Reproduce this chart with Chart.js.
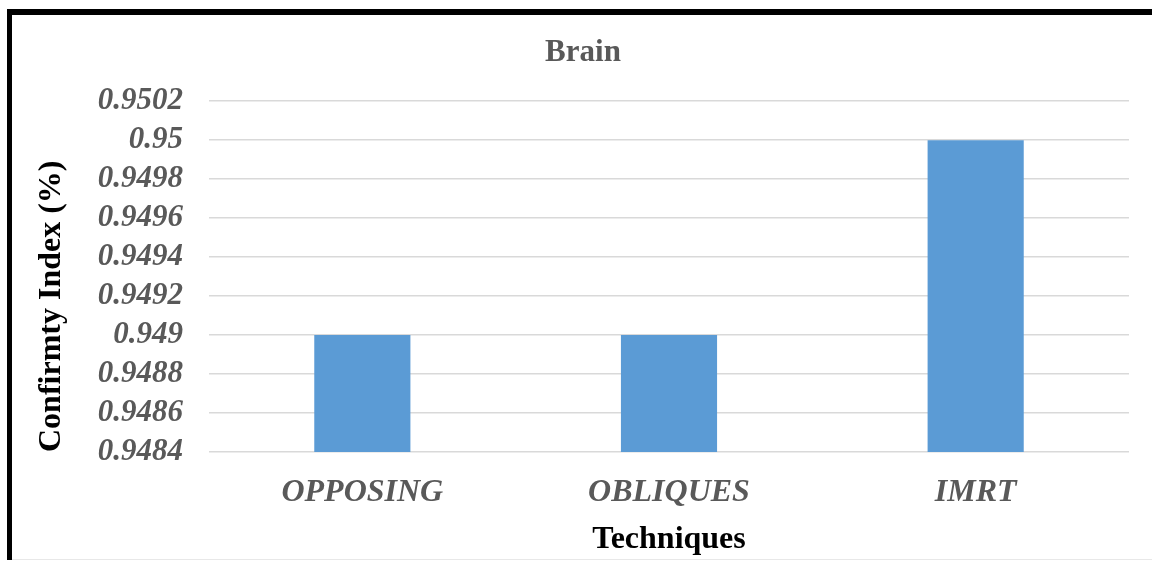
<!DOCTYPE html>
<html>
<head>
<meta charset="utf-8">
<script src="https://cdn.jsdelivr.net/npm/chart.js@4.4.1/dist/chart.umd.min.js"></script>
<style>
  html, body { margin: 0; padding: 0; background: #ffffff; }
  #wrap { position: relative; width: 1152px; height: 561px; overflow: hidden; }
  #frame { position: absolute; left: 7px; top: 9px; right: 0; bottom: 1px;
           border-left: 5px solid #000; border-top: 6px solid #000; }
  #bottomline { position: absolute; left: 12px; right: 0; top: 559px; height: 1px; background: #e8e8e8; }
  #c { position: absolute; left: 0; top: 0; }
</style>
</head>
<body>
<div id="wrap">
  <div id="frame"></div>
  <div id="bottomline"></div>
  <canvas id="c" width="1152" height="561"></canvas>
</div>
<script>
const categories = ['OPPOSING', 'OBLIQUES', 'IMRT'];
const conformityValues = [0.949, 0.949, 0.95];
const yTickValues = [0.9484, 0.9486, 0.9488, 0.949, 0.9492, 0.9494, 0.9496, 0.9498, 0.95, 0.9502];
const yTickLabels = ['0.9484', '0.9486', '0.9488', '0.949', '0.9492', '0.9494', '0.9496', '0.9498', '0.95', '0.9502'];
const chartTitle = 'Brain';
const xAxisTitle = 'Techniques';
const yAxisTitle = 'Confirmty Index (%)';

const serif = '"Liberation Serif", "Times New Roman", serif';

new Chart(document.getElementById('c'), {
  type: 'bar',
  data: {
    labels: categories,
    datasets: [{
      label: 'Conformity Index',
      data: conformityValues,
      backgroundColor: '#5b9bd5',
      borderWidth: 0,
      barPercentage: 1,
      categoryPercentage: 0.3135
    }]
  },
  options: {
    responsive: false,
    animation: false,
    devicePixelRatio: 1,
    layout: { padding: { left: 37, right: 23, top: 0, bottom: 0 } },
    plugins: {
      legend: { display: false },
      tooltip: { enabled: false },
      title: {
        display: true,
        text: chartTitle,
        color: '#595959',
        font: { family: serif, size: 31, weight: 'bold', lineHeight: 1.2 },
        padding: { top: 34, bottom: 30 }
      }
    },
    scales: {
      x: {
        grid: { display: false },
        border: { display: false },
        ticks: {
          color: '#595959',
          font: { family: serif, size: 32, weight: 'bold', style: 'italic', lineHeight: 1.2 },
          padding: 14,
          maxRotation: 0,
          autoSkip: false
        },
        title: {
          display: true,
          text: xAxisTitle,
          color: '#000000',
          font: { family: serif, size: 32, weight: 'bold', lineHeight: 1.2 },
          padding: { top: 0, bottom: 2 }
        },
        afterFit: (scale) => { scale.height = 109; }
      },
      y: {
        min: yTickValues[0],
        max: yTickValues[yTickValues.length - 1],
        afterBuildTicks: (scale) => { scale.ticks = yTickValues.map(v => ({ value: v })); },
        grid: { color: '#d9d9d9', lineWidth: 1.5, drawTicks: false },
        border: { display: false },
        ticks: {
          color: '#595959',
          font: { family: serif, size: 31, weight: 'bold', style: 'italic', lineHeight: 1.2 },
          padding: 26,
          autoSkip: false,
          callback: (value, index) => yTickLabels[index]
        },
        title: {
          display: true,
          text: yAxisTitle,
          align: 'start',
          color: '#000000',
          font: { family: serif, size: 32, weight: 'bold', lineHeight: 0.9 },
          padding: { top: 0, bottom: 0 }
        },
        afterFit: (scale) => { scale.width = 172; }
      }
    }
  }
});
</script>
</body>
</html>
